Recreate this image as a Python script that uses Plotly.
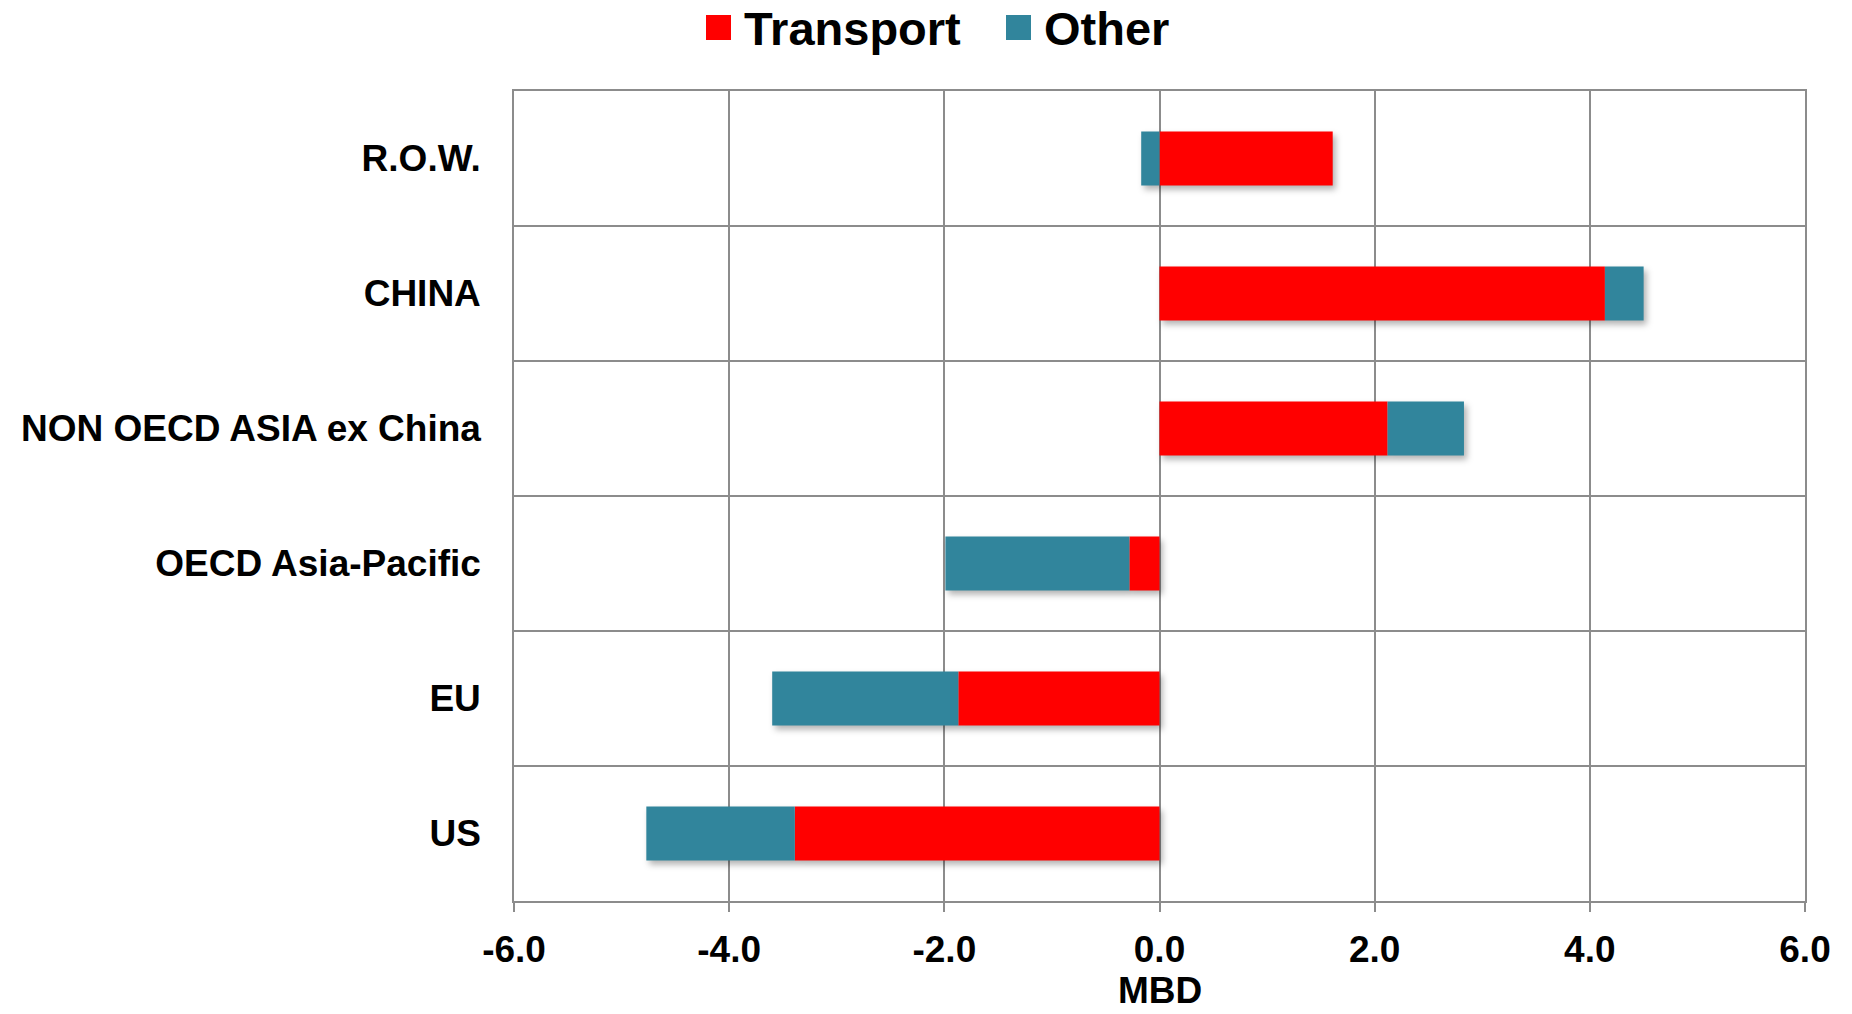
import plotly.graph_objects as go

# Change in oil demand by region, split by sector (million barrels per day)
regions = ["US", "EU", "OECD Asia-Pacific", "NON OECD ASIA ex China", "CHINA", "R.O.W."]
transport = [-3.39, -1.87, -0.28, 2.12, 4.14, 1.61]
other = [-1.38, -1.73, -1.71, 0.71, 0.36, -0.17]

series_names = ["Transport", "Other"]
series_colors = ["#FF0000", "#31859C"]
x_ticks = [-6, -4, -2, 0, 2, 4, 6]
x_ticktext = ["-6.0", "-4.0", "-2.0", "0.0", "2.0", "4.0", "6.0"]
x_title = "MBD"

FONT = "Liberation Sans, Arial, sans-serif"
GRID = "#8C8C8C"

W, H = 1852, 1014
L, R, T, B = 514, 47, 91, 113

fig = go.Figure()
for name, vals, col in zip(series_names, [transport, other], series_colors):
    fig.add_trace(go.Bar(
        y=regions, x=vals, name=name, orientation="h",
        marker=dict(color=col, line=dict(width=0)),
        showlegend=False,
    ))

# Pixel -> paper coordinate helpers
def px_x(p):
    return (p - L) / (W - L - R)

def px_y(p):
    return 1 + (T - p) / (H - T - B)

# Legend drawn as large squares with bold labels above the plot
legend_items = [
    (706, 742, series_names[0], series_colors[0]),
    (1006, 1042, series_names[1], series_colors[1]),
]
shapes = []
annotations = []
for sq_x, tx, label, col in legend_items:
    shapes.append(dict(
        type="rect", xref="paper", yref="paper",
        x0=px_x(sq_x), x1=px_x(sq_x + 25), y0=px_y(40), y1=px_y(15),
        fillcolor=col, line=dict(width=0),
    ))
    annotations.append(dict(
        xref="paper", yref="paper", x=px_x(tx), y=px_y(29),
        xanchor="left", yanchor="middle", showarrow=False,
        text=label,
        font=dict(family=FONT, size=47, color="black", weight="bold"),
    ))

# Axis title below the tick labels, kept inside the page
annotations.append(dict(
    xref="paper", yref="paper", x=0.5, y=px_y(1013),
    xanchor="center", yanchor="bottom", showarrow=False,
    text=x_title,
    font=dict(family=FONT, size=37, color="black", weight="bold"),
))

fig.update_layout(
    width=W, height=H,
    margin=dict(l=L, r=R, t=T, b=B, pad=0),
    paper_bgcolor="white", plot_bgcolor="white",
    barmode="relative", bargap=0.6,
    showlegend=False,
    shapes=shapes, annotations=annotations,
    font=dict(family=FONT, color="black"),
)

fig.update_xaxes(
    range=[-6, 6], tickvals=x_ticks, ticktext=x_ticktext,
    tickfont=dict(family=FONT, size=37, color="black", weight="bold"),
    ticks="outside", ticklen=9, tickcolor=GRID, tickwidth=1.5,
    ticklabelstandoff=6,
    showgrid=True, gridcolor=GRID, gridwidth=1.5,
    zeroline=True, zerolinecolor=GRID, zerolinewidth=1.5,
    showline=True, linecolor=GRID, linewidth=1.5, mirror=True,
    automargin=False,
    fixedrange=True,
)
fig.update_yaxes(
    type="category", categoryorder="array", categoryarray=regions,
    tickson="boundaries", ticks="", ticklabelstandoff=24,
    tickfont=dict(family=FONT, size=37, color="black", weight="bold"),
    showgrid=True, gridcolor=GRID, gridwidth=1.5,
    showline=True, linecolor=GRID, linewidth=1.5, mirror=True,
    automargin=False,
    fixedrange=True,
)

shadow_js = """
document.querySelectorAll('.barlayer').forEach(function(g){
  g.style.filter = 'drop-shadow(3px 4px 3px rgba(0,0,0,0.3))';
});
"""

fig.write_html("out.html", include_plotlyjs=True, post_script=shadow_js,
               config={"displayModeBar": False})
